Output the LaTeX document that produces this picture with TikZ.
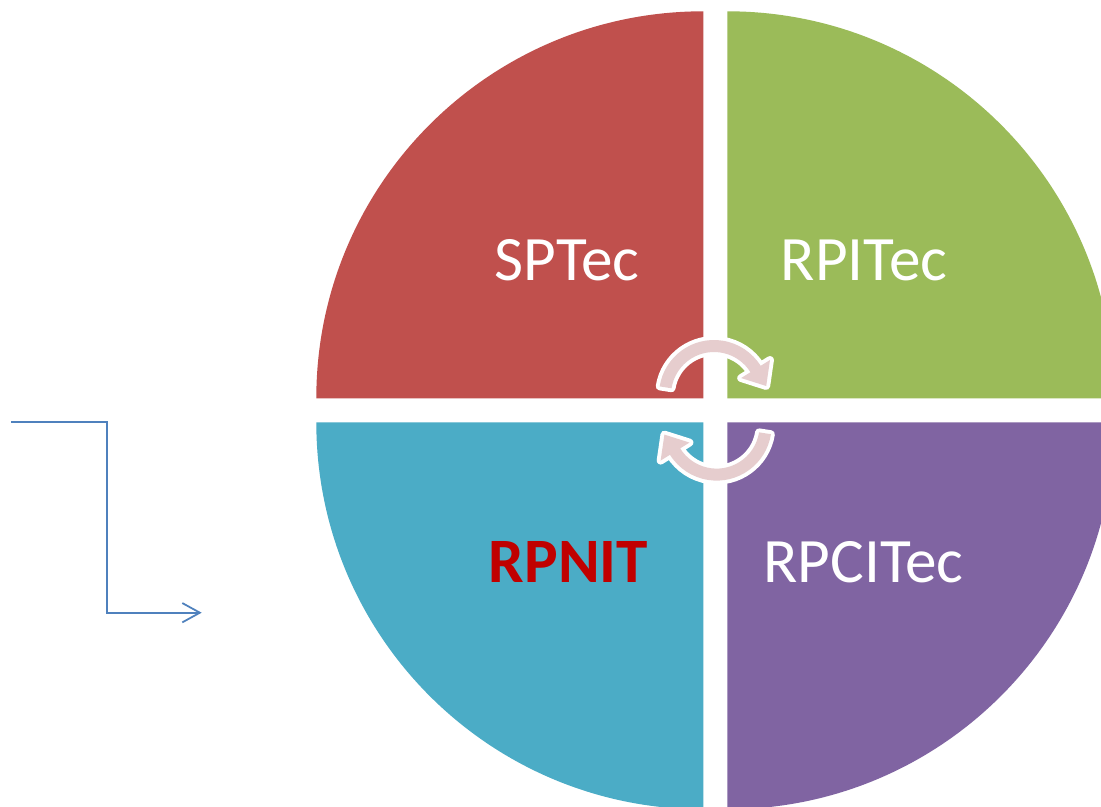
\documentclass[tikz,border=0pt]{standalone}
\usepackage{fontspec}
\setmainfont{Carlito}
\usetikzlibrary{arrows.meta}
\definecolor{sptecred}{RGB}{192,80,77}
\definecolor{rpitecgreen}{RGB}{155,187,89}
\definecolor{rpnitblue}{RGB}{75,172,198}
\definecolor{rpcitecpurple}{RGB}{128,100,162}
\definecolor{cyclepink}{RGB}{230,205,206}
\definecolor{linkblue}{RGB}{79,129,189}
\definecolor{rpnitred}{RGB}{192,0,0}
\tikzset{quadtext/.style={font=\fontsize{36}{43}\selectfont, text=white, anchor=base, inner sep=0pt},
  cyclearrow/.style={fill=cyclepink, preaction={draw=white, line width=4.5pt, line join=round}},
  link/.style={draw=linkblue, line width=1pt, -{Straight Barb[length=10pt, width=11pt]}}}

\begin{document}
\begin{tikzpicture}[x=0.02cm, y=0.02cm]
    \useasboundingbox (0,0) rectangle (1101,806);
    \clip (0,0) rectangle (1101,806);
    \fill[white] (0,0) rectangle (1101,806);
    % four quarters of the pie
    \fill[sptecred] (703.3,407.7) -- ++(-387,0) arc[start angle=180, end angle=90, radius=387] -- cycle;
    \fill[rpitecgreen] (727.3,407.7) -- ++(0,387) arc[start angle=90, end angle=0, radius=387] -- cycle;
    \fill[rpnitblue] (703.3,383.7) -- ++(-387,0) arc[start angle=180, end angle=270, radius=387] -- cycle;
    \fill[rpcitecpurple] (727.3,383.7) -- ++(387,0) arc[start angle=0, end angle=-90, radius=387] -- cycle;
    % cycle arrows
    \begin{scope}[shift={(714,411)}]
        \fill[cyclearrow] (171:55) arc[start angle=171, end angle=32, radius=55] -- (32:66) -- (52.2,9)
            -- (32:32) -- (32:43) arc[start angle=32, end angle=171, radius=43] -- cycle;
    \end{scope}
    \begin{scope}[shift={(716.6,380.4)}, rotate=180]
        \fill[cyclearrow] (171:55) arc[start angle=171, end angle=32, radius=55] -- (32:66) -- (52.2,9)
            -- (32:32) -- (32:43) arc[start angle=32, end angle=171, radius=43] -- cycle;
    \end{scope}
    \node[quadtext] (sptec) at (567,526) {SPTec};
    \node[quadtext] (rpitec) at (864,526) {RPITec};
    \node[quadtext, text=rpnitred, font=\fontsize{36}{43}\selectfont\bfseries] (rpnit) at (568.5,224) {RPNIT};
    \node[quadtext] (rpcitec) at (863.5,224) {RPCITec};
    % link on the left
    \coordinate (linkstart) at (11,384.3);
    \coordinate (linkend) at (201.7,193.3);
    \draw[link] (linkstart) -- ++(95.7,0) |- (linkend);
\end{tikzpicture}
\end{document}
